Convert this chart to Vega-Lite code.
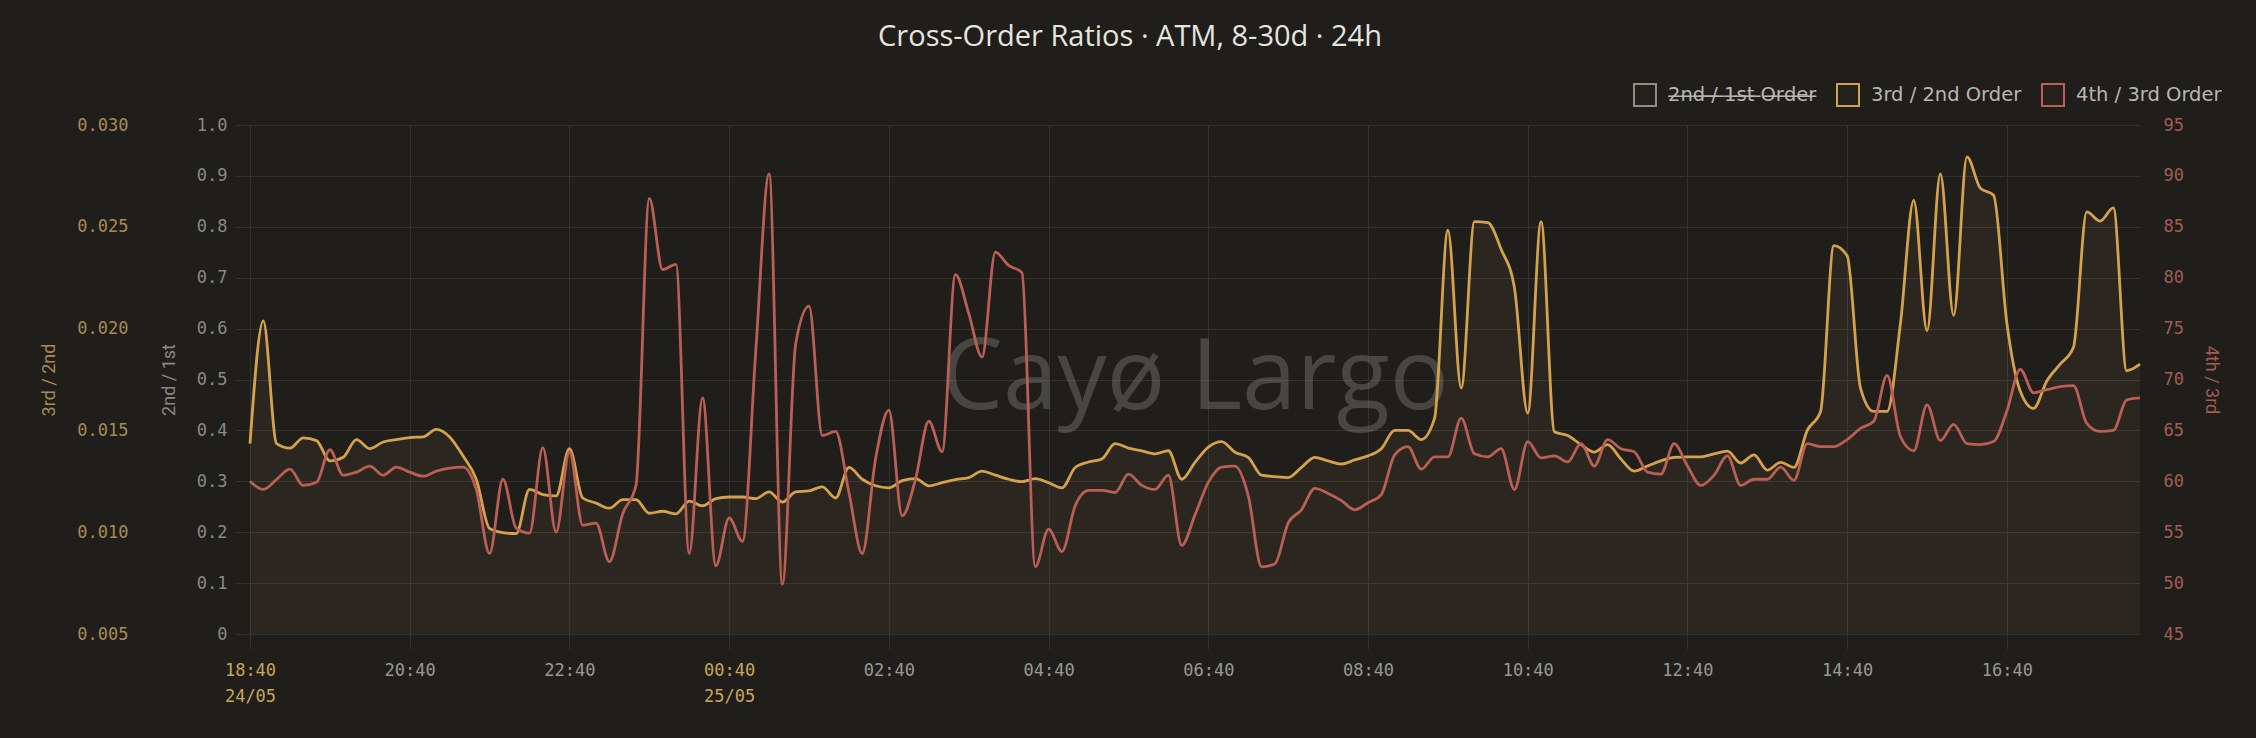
{
  "$schema": "https://vega.github.io/schema/vega-lite/v6.json",
  "width": 1890,
  "height": 509,
  "autosize": {"type": "none"},
  "padding": {"left": 250, "top": 125, "right": 116, "bottom": 104},
  "background": "#1f1e1b",
  "title": {
    "text": "Cross-Order Ratios · ATM, 8-30d · 24h",
    "font": "Open Sans",
    "fontSize": 29,
    "fontWeight": 400,
    "color": "#e6e4de",
    "frame": "group",
    "anchor": "middle",
    "dx": -65,
    "offset": 31
  },
  "config": {
    "view": {"stroke": null},
    "legend": {
      "orient": "none",
      "legendX": 1383,
      "legendY": -42,
      "direction": "horizontal",
      "title": null,
      "symbolType": "square",
      "symbolSize": 484,
      "symbolStrokeWidth": 2,
      "symbolFillColor": "#24211c",
      "labelColor": "#b8b6b0",
      "labelFont": "DejaVu Sans",
      "labelFontSize": 19.5,
      "labelOffset": 11,
      "columnPadding": 16,
      "padding": 0
    }
  },
  "data": {
    "values": [
      {"t": "2025-05-24T18:40Z", "g": 0.01435, "r": 60.0},
      {"t": "2025-05-24T18:50Z", "g": 0.02038, "r": 59.2},
      {"t": "2025-05-24T19:00Z", "g": 0.01435, "r": 60.2},
      {"t": "2025-05-24T19:10Z", "g": 0.01413, "r": 61.2},
      {"t": "2025-05-24T19:20Z", "g": 0.01463, "r": 59.6},
      {"t": "2025-05-24T19:30Z", "g": 0.0145, "r": 59.9},
      {"t": "2025-05-24T19:40Z", "g": 0.0135, "r": 63.1},
      {"t": "2025-05-24T19:50Z", "g": 0.01368, "r": 60.6},
      {"t": "2025-05-24T20:00Z", "g": 0.01455, "r": 60.9},
      {"t": "2025-05-24T20:10Z", "g": 0.0141, "r": 61.5},
      {"t": "2025-05-24T20:20Z", "g": 0.01443, "r": 60.6},
      {"t": "2025-05-24T20:30Z", "g": 0.01455, "r": 61.4},
      {"t": "2025-05-24T20:40Z", "g": 0.01465, "r": 60.9},
      {"t": "2025-05-24T20:50Z", "g": 0.01468, "r": 60.5},
      {"t": "2025-05-24T21:00Z", "g": 0.01505, "r": 61.0},
      {"t": "2025-05-24T21:10Z", "g": 0.01468, "r": 61.3},
      {"t": "2025-05-24T21:20Z", "g": 0.01375, "r": 61.4},
      {"t": "2025-05-24T21:30Z", "g": 0.0126, "r": 59.2},
      {"t": "2025-05-24T21:40Z", "g": 0.01018, "r": 52.9},
      {"t": "2025-05-24T21:50Z", "g": 0.00998, "r": 60.2},
      {"t": "2025-05-24T22:00Z", "g": 0.00993, "r": 55.4},
      {"t": "2025-05-24T22:10Z", "g": 0.0121, "r": 54.9},
      {"t": "2025-05-24T22:20Z", "g": 0.01185, "r": 63.3},
      {"t": "2025-05-24T22:30Z", "g": 0.01178, "r": 55.0},
      {"t": "2025-05-24T22:40Z", "g": 0.0141, "r": 62.9},
      {"t": "2025-05-24T22:50Z", "g": 0.01168, "r": 55.7},
      {"t": "2025-05-24T23:00Z", "g": 0.01143, "r": 55.9},
      {"t": "2025-05-24T23:10Z", "g": 0.01118, "r": 52.1},
      {"t": "2025-05-24T23:20Z", "g": 0.0116, "r": 56.8},
      {"t": "2025-05-24T23:30Z", "g": 0.0116, "r": 59.6},
      {"t": "2025-05-24T23:40Z", "g": 0.01093, "r": 87.8},
      {"t": "2025-05-24T23:50Z", "g": 0.01103, "r": 80.8},
      {"t": "2025-05-25T00:00Z", "g": 0.0109, "r": 81.3},
      {"t": "2025-05-25T00:10Z", "g": 0.01153, "r": 52.9},
      {"t": "2025-05-25T00:20Z", "g": 0.0113, "r": 68.2},
      {"t": "2025-05-25T00:30Z", "g": 0.01165, "r": 51.7},
      {"t": "2025-05-25T00:40Z", "g": 0.01173, "r": 56.4},
      {"t": "2025-05-25T00:50Z", "g": 0.01173, "r": 54.1},
      {"t": "2025-05-25T01:00Z", "g": 0.01165, "r": 72.8},
      {"t": "2025-05-25T01:10Z", "g": 0.01198, "r": 90.2},
      {"t": "2025-05-25T01:20Z", "g": 0.01148, "r": 49.9},
      {"t": "2025-05-25T01:30Z", "g": 0.01198, "r": 73.5},
      {"t": "2025-05-25T01:40Z", "g": 0.01203, "r": 77.2},
      {"t": "2025-05-25T01:50Z", "g": 0.01223, "r": 64.5},
      {"t": "2025-05-25T02:00Z", "g": 0.01168, "r": 64.9},
      {"t": "2025-05-25T02:10Z", "g": 0.01318, "r": 58.9},
      {"t": "2025-05-25T02:20Z", "g": 0.0126, "r": 52.9},
      {"t": "2025-05-25T02:30Z", "g": 0.01228, "r": 62.2},
      {"t": "2025-05-25T02:40Z", "g": 0.01218, "r": 67.0},
      {"t": "2025-05-25T02:50Z", "g": 0.01253, "r": 56.6},
      {"t": "2025-05-25T03:00Z", "g": 0.01263, "r": 60.2},
      {"t": "2025-05-25T03:10Z", "g": 0.01228, "r": 65.9},
      {"t": "2025-05-25T03:20Z", "g": 0.01243, "r": 62.9},
      {"t": "2025-05-25T03:30Z", "g": 0.01258, "r": 80.3},
      {"t": "2025-05-25T03:40Z", "g": 0.01268, "r": 76.5},
      {"t": "2025-05-25T03:50Z", "g": 0.013, "r": 72.2},
      {"t": "2025-05-25T04:00Z", "g": 0.0128, "r": 82.5},
      {"t": "2025-05-25T04:10Z", "g": 0.0126, "r": 81.2},
      {"t": "2025-05-25T04:20Z", "g": 0.01248, "r": 80.5},
      {"t": "2025-05-25T04:30Z", "g": 0.01263, "r": 51.6},
      {"t": "2025-05-25T04:40Z", "g": 0.01243, "r": 55.3},
      {"t": "2025-05-25T04:50Z", "g": 0.01218, "r": 53.1},
      {"t": "2025-05-25T05:00Z", "g": 0.01318, "r": 57.6},
      {"t": "2025-05-25T05:10Z", "g": 0.01345, "r": 59.1},
      {"t": "2025-05-25T05:20Z", "g": 0.0136, "r": 59.1},
      {"t": "2025-05-25T05:30Z", "g": 0.01435, "r": 58.9},
      {"t": "2025-05-25T05:40Z", "g": 0.01413, "r": 60.7},
      {"t": "2025-05-25T05:50Z", "g": 0.014, "r": 59.6},
      {"t": "2025-05-25T06:00Z", "g": 0.01385, "r": 59.2},
      {"t": "2025-05-25T06:10Z", "g": 0.014, "r": 60.6},
      {"t": "2025-05-25T06:20Z", "g": 0.0126, "r": 53.7},
      {"t": "2025-05-25T06:30Z", "g": 0.01343, "r": 56.7},
      {"t": "2025-05-25T06:40Z", "g": 0.01418, "r": 59.9},
      {"t": "2025-05-25T06:50Z", "g": 0.01445, "r": 61.4},
      {"t": "2025-05-25T07:00Z", "g": 0.01393, "r": 61.5},
      {"t": "2025-05-25T07:10Z", "g": 0.01368, "r": 58.6},
      {"t": "2025-05-25T07:20Z", "g": 0.0128, "r": 51.6},
      {"t": "2025-05-25T07:30Z", "g": 0.01273, "r": 51.9},
      {"t": "2025-05-25T07:40Z", "g": 0.01268, "r": 55.9},
      {"t": "2025-05-25T07:50Z", "g": 0.01318, "r": 57.2},
      {"t": "2025-05-25T08:00Z", "g": 0.01368, "r": 59.3},
      {"t": "2025-05-25T08:10Z", "g": 0.0135, "r": 58.8},
      {"t": "2025-05-25T08:20Z", "g": 0.01335, "r": 58.1},
      {"t": "2025-05-25T08:30Z", "g": 0.01355, "r": 57.2},
      {"t": "2025-05-25T08:40Z", "g": 0.01375, "r": 57.9},
      {"t": "2025-05-25T08:50Z", "g": 0.0141, "r": 58.7},
      {"t": "2025-05-25T09:00Z", "g": 0.015, "r": 62.6},
      {"t": "2025-05-25T09:10Z", "g": 0.015, "r": 63.4},
      {"t": "2025-05-25T09:20Z", "g": 0.01455, "r": 61.2},
      {"t": "2025-05-25T09:30Z", "g": 0.0156, "r": 62.4},
      {"t": "2025-05-25T09:40Z", "g": 0.02483, "r": 62.4},
      {"t": "2025-05-25T09:50Z", "g": 0.01708, "r": 66.2},
      {"t": "2025-05-25T10:00Z", "g": 0.02525, "r": 62.7},
      {"t": "2025-05-25T10:10Z", "g": 0.0252, "r": 62.4},
      {"t": "2025-05-25T10:20Z", "g": 0.0239, "r": 63.2},
      {"t": "2025-05-25T10:30Z", "g": 0.022, "r": 59.2},
      {"t": "2025-05-25T10:40Z", "g": 0.01585, "r": 63.9},
      {"t": "2025-05-25T10:50Z", "g": 0.02525, "r": 62.3},
      {"t": "2025-05-25T11:00Z", "g": 0.01493, "r": 62.5},
      {"t": "2025-05-25T11:10Z", "g": 0.01475, "r": 61.9},
      {"t": "2025-05-25T11:20Z", "g": 0.0143, "r": 63.7},
      {"t": "2025-05-25T11:30Z", "g": 0.01393, "r": 61.5},
      {"t": "2025-05-25T11:40Z", "g": 0.0143, "r": 64.1},
      {"t": "2025-05-25T11:50Z", "g": 0.0136, "r": 63.2},
      {"t": "2025-05-25T12:00Z", "g": 0.013, "r": 62.9},
      {"t": "2025-05-25T12:10Z", "g": 0.01325, "r": 60.9},
      {"t": "2025-05-25T12:20Z", "g": 0.0135, "r": 60.7},
      {"t": "2025-05-25T12:30Z", "g": 0.01368, "r": 63.7},
      {"t": "2025-05-25T12:40Z", "g": 0.0137, "r": 61.5},
      {"t": "2025-05-25T12:50Z", "g": 0.0137, "r": 59.6},
      {"t": "2025-05-25T13:00Z", "g": 0.01385, "r": 60.6},
      {"t": "2025-05-25T13:10Z", "g": 0.01398, "r": 62.5},
      {"t": "2025-05-25T13:20Z", "g": 0.0134, "r": 59.6},
      {"t": "2025-05-25T13:30Z", "g": 0.0138, "r": 60.2},
      {"t": "2025-05-25T13:40Z", "g": 0.01305, "r": 60.2},
      {"t": "2025-05-25T13:50Z", "g": 0.01343, "r": 61.4},
      {"t": "2025-05-25T14:00Z", "g": 0.01318, "r": 60.1},
      {"t": "2025-05-25T14:10Z", "g": 0.015, "r": 63.7},
      {"t": "2025-05-25T14:20Z", "g": 0.01593, "r": 63.4},
      {"t": "2025-05-25T14:30Z", "g": 0.02408, "r": 63.4},
      {"t": "2025-05-25T14:40Z", "g": 0.02358, "r": 64.1},
      {"t": "2025-05-25T14:50Z", "g": 0.01708, "r": 65.2},
      {"t": "2025-05-25T15:00Z", "g": 0.01593, "r": 65.9},
      {"t": "2025-05-25T15:10Z", "g": 0.01593, "r": 70.4},
      {"t": "2025-05-25T15:20Z", "g": 0.02025, "r": 64.4},
      {"t": "2025-05-25T15:30Z", "g": 0.0263, "r": 63.0},
      {"t": "2025-05-25T15:40Z", "g": 0.0199, "r": 67.5},
      {"t": "2025-05-25T15:50Z", "g": 0.0276, "r": 64.0},
      {"t": "2025-05-25T16:00Z", "g": 0.02065, "r": 65.6},
      {"t": "2025-05-25T16:10Z", "g": 0.02843, "r": 63.7},
      {"t": "2025-05-25T16:20Z", "g": 0.0269, "r": 63.6},
      {"t": "2025-05-25T16:30Z", "g": 0.02655, "r": 63.9},
      {"t": "2025-05-25T16:40Z", "g": 0.02025, "r": 66.9},
      {"t": "2025-05-25T16:50Z", "g": 0.01693, "r": 71.0},
      {"t": "2025-05-25T17:00Z", "g": 0.01608, "r": 68.7},
      {"t": "2025-05-25T17:10Z", "g": 0.01743, "r": 69.0},
      {"t": "2025-05-25T17:20Z", "g": 0.01825, "r": 69.3},
      {"t": "2025-05-25T17:30Z", "g": 0.01908, "r": 69.4},
      {"t": "2025-05-25T17:40Z", "g": 0.02573, "r": 65.7},
      {"t": "2025-05-25T17:50Z", "g": 0.02528, "r": 64.9},
      {"t": "2025-05-25T18:00Z", "g": 0.02593, "r": 65.0},
      {"t": "2025-05-25T18:10Z", "g": 0.01793, "r": 68.0},
      {"t": "2025-05-25T18:20Z", "g": 0.01825, "r": 68.2}
    ]
  },
  "encoding": {
    "x": {
      "field": "t",
      "type": "temporal",
      "scale": {
        "type": "utc",
        "domain": [
          {"year": 2025, "month": 5, "date": 24, "hours": 18, "minutes": 40, "utc": true},
          {"year": 2025, "month": 5, "date": 25, "hours": 18, "minutes": 20, "utc": true}
        ]
      },
      "axis": {
        "title": null,
        "values": [
          {"year": 2025, "month": 5, "date": 24, "hours": 18, "minutes": 40, "utc": true},
          {"year": 2025, "month": 5, "date": 24, "hours": 20, "minutes": 40, "utc": true},
          {"year": 2025, "month": 5, "date": 24, "hours": 22, "minutes": 40, "utc": true},
          {"year": 2025, "month": 5, "date": 25, "hours": 0, "minutes": 40, "utc": true},
          {"year": 2025, "month": 5, "date": 25, "hours": 2, "minutes": 40, "utc": true},
          {"year": 2025, "month": 5, "date": 25, "hours": 4, "minutes": 40, "utc": true},
          {"year": 2025, "month": 5, "date": 25, "hours": 6, "minutes": 40, "utc": true},
          {"year": 2025, "month": 5, "date": 25, "hours": 8, "minutes": 40, "utc": true},
          {"year": 2025, "month": 5, "date": 25, "hours": 10, "minutes": 40, "utc": true},
          {"year": 2025, "month": 5, "date": 25, "hours": 12, "minutes": 40, "utc": true},
          {"year": 2025, "month": 5, "date": 25, "hours": 14, "minutes": 40, "utc": true},
          {"year": 2025, "month": 5, "date": 25, "hours": 16, "minutes": 40, "utc": true}
        ],
        "labelExpr": "(utchours(datum.value) == 0 || utchours(datum.value) == 18) ? [utcFormat(datum.value, '%H:%M'), utcFormat(datum.value, '%d/%m')] : utcFormat(datum.value, '%H:%M')",
        "labelColor": {"condition": {"test": "utchours(datum.value) == 0 || utchours(datum.value) == 18", "value": "#c9a55a"}, "value": "#9a9892"},
        "labelFont": "DejaVu Sans Mono",
        "labelFontSize": 17,
        "labelLineHeight": 26,
        "labelBaseline": "top",
        "labelPadding": 13,
        "labelFlush": false,
        "labelOverlap": false,
        "tickSize": 15,
        "tickColor": "#34322e",
        "grid": true,
        "gridColor": "#34322e",
        "domain": false
      }
    }
  },
  "layer": [
    {
      "transform": [{"filter": {"field": "t", "equal": {"year": 2025, "month": 5, "date": 25, "hours": 6, "minutes": 30, "utc": true}}}],
      "mark": {"type": "text", "text": "Cayø Largo", "font": "Open Sans", "fontSize": 98, "color": "#8a8884", "opacity": 0.38, "align": "center", "baseline": "middle"},
      "encoding": {
        "y": {
          "datum": 0.5,
          "type": "quantitative",
          "scale": {"domain": [0, 1]},
          "axis": {
            "orient": "left",
            "title": "2nd / 1st",
            "titleColor": "#8a8884",
            "titleFont": "Roboto",
            "titleFontSize": 18,
            "titleFontWeight": 400,
            "titlePadding": 18,
            "values": [0, 0.1, 0.2, 0.3, 0.4, 0.5, 0.6, 0.7, 0.8, 0.9, 1],
            "labelExpr": "datum.value == 0 ? '0' : format(datum.value, '.1f')",
            "labelColor": "#8a8884",
            "labelFont": "DejaVu Sans Mono",
            "labelFontSize": 17,
            "labelPadding": 8,
            "tickSize": 15,
            "tickColor": "#34322e",
            "grid": true,
            "gridColor": "#34322e",
            "domain": false
          }
        }
      }
    },
    {
      "encoding": {
        "y": {
          "field": "g",
          "type": "quantitative",
          "scale": {"domain": [0.005, 0.03], "zero": false},
          "axis": {
            "orient": "left",
            "offset": 112,
            "title": "3rd / 2nd",
            "titleColor": "#a88b52",
            "titleFont": "Roboto",
            "titleFontSize": 18,
            "titleFontWeight": 400,
            "titlePadding": 18,
            "values": [0.005, 0.01, 0.015, 0.02, 0.025, 0.03],
            "format": ".3f",
            "labelColor": "#a88b52",
            "labelFont": "DejaVu Sans Mono",
            "labelFontSize": 17,
            "labelPadding": 10,
            "ticks": false,
            "tickSize": 0,
            "grid": false,
            "domain": false
          }
        }
      },
      "layer": [
        {
          "mark": {"type": "area", "interpolate": "monotone", "color": "#d4a24e", "fillOpacity": 0.07},
          "encoding": {"y2": {"datum": 0.005}}
        },
        {
          "mark": {"type": "line", "interpolate": "monotone", "strokeWidth": 2.8},
          "encoding": {
            "color": {
              "datum": "3rd / 2nd Order",
              "scale": {"domain": ["2nd / 1st Order", "3rd / 2nd Order", "4th / 3rd Order"], "range": ["#8f8d88", "#d4a24e", "#b95f55"]},
              "legend": {
                "labelExpr": "datum.label == '2nd / 1st Order' ? '2\u0336n\u0336d\u0336 \u0336/\u0336 \u03361\u0336s\u0336t\u0336 \u0336O\u0336r\u0336d\u0336e\u0336r\u0336' : datum.label"
              }
            }
          }
        }
      ]
    },
    {
      "mark": {"type": "line", "interpolate": "monotone", "strokeWidth": 2.8},
      "encoding": {
        "y": {
          "field": "r",
          "type": "quantitative",
          "scale": {"domain": [45, 95], "zero": false},
          "axis": {
            "orient": "right",
            "title": "4th / 3rd",
            "titleColor": "#a35c52",
            "titleFont": "Roboto",
            "titleFontSize": 18,
            "titleFontWeight": 400,
            "titlePadding": 18,
            "values": [45, 50, 55, 60, 65, 70, 75, 80, 85, 90, 95],
            "labelColor": "#a35c52",
            "labelFont": "DejaVu Sans Mono",
            "labelFontSize": 17,
            "labelPadding": 23,
            "ticks": false,
            "tickSize": 0,
            "grid": false,
            "domain": false
          }
        },
        "color": {"datum": "4th / 3rd Order"}
      }
    }
  ],
  "resolve": {"scale": {"y": "independent"}}
}
